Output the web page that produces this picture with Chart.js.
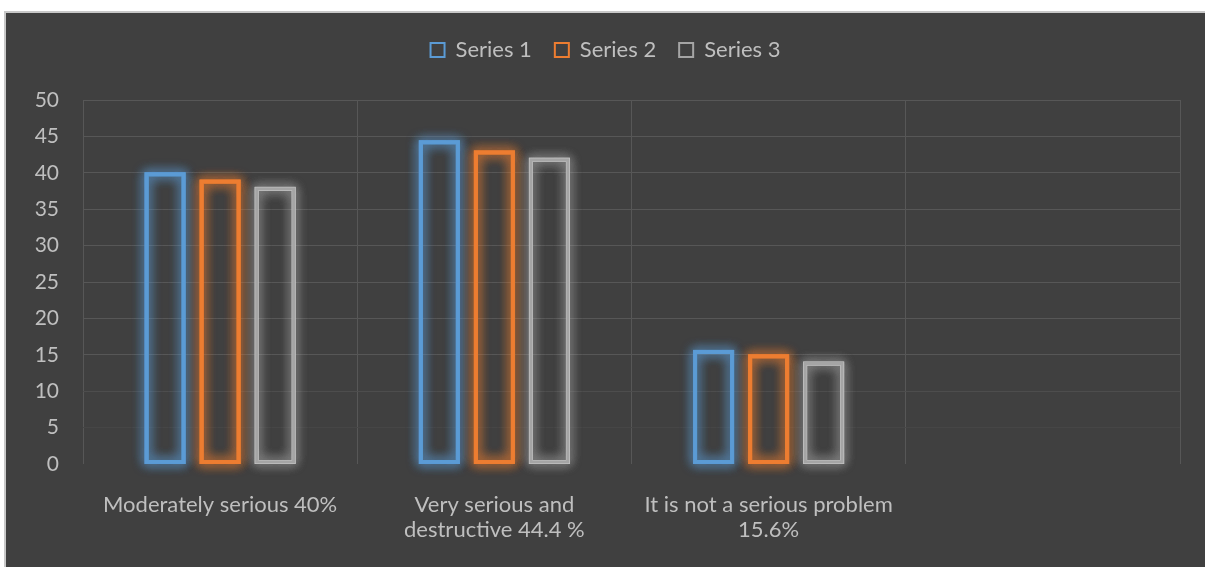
<!DOCTYPE html>
<html>
<head>
<meta charset="utf-8">
<script src="https://cdn.jsdelivr.net/npm/chart.js@4.4.1/dist/chart.umd.min.js"></script>
<style>
  html, body { margin: 0; padding: 0; background: #ffffff; }
  #marco {
    position: absolute; left: 4px; top: 11px;
    width: 1199px; height: 554px;
    background: #404040;
    border-top: 2px solid #c8c8c8;
    border-left: 2px solid #c8c8c8;
  }
  canvas { display: block; }
</style>
</head>
<body>
<div id="marco"><canvas id="grafico" width="1199" height="554"></canvas></div>
<script>
// Datos
const categorias = [
    'Moderately serious 40%',
    ['Very serious and', 'destructive 44.4 %'],
    ['It is not a serious problem', '15.6%'],
    ''
];
const serie1 = [40, 44.4, 15.6];
const serie2 = [39, 43, 15];
const serie3 = [38, 42, 14];
const nombresSeries = ['Series 1', 'Series 2', 'Series 3'];
const coloresSeries = ['#5b9bd5', '#ed7d31', '#a5a5a5'];
const brilloSeries = ['rgba(91,155,213,0.8)', 'rgba(237,125,49,0.8)', 'rgba(200,200,200,0.65)'];

const colorTexto = '#bfbfbf';
const colorRejilla = '#575757';

Chart.defaults.font.family = 'Lato, "Open Sans", sans-serif';
Chart.defaults.font.size = 22;
Chart.defaults.color = colorTexto;

// Resplandor alrededor de las barras (estilo Office)
const pluginBrillo = {
    id: 'brillo',
    beforeDatasetsDraw(chart) {
        const ctx = chart.ctx;
        chart.data.datasets.forEach((ds, i) => {
            const meta = chart.getDatasetMeta(i);
            meta.data.forEach(bar => {
                const { x, y, base, width } = bar.getProps(['x', 'y', 'base', 'width'], true);
                ctx.save();
                ctx.shadowColor = brilloSeries[i];
                ctx.shadowBlur = 12;
                ctx.strokeStyle = brilloSeries[i];
                ctx.lineWidth = 4;
                for (let k = 0; k < 3; k++) {
                    ctx.strokeRect(x - width / 2 + 1.5, y + 1.5, width - 3, base - y - 3);
                }
                ctx.restore();
            });
        });
    }
};

// Altura fija para la leyenda
const pluginLeyenda = {
    id: 'alturaLeyenda',
    afterInit(chart) {
        const lg = chart.legend;
        if (!lg) return;
        const fitOriginal = lg.fit;
        lg.fit = function () {
            fitOriginal.call(this);
            this.height = 84;
        };
    }
};

function crearDataset(label, datos, i) {
    return {
        label: label,
        data: datos,
        backgroundColor: 'transparent',
        borderColor: coloresSeries[i],
        borderWidth: 3,
        borderSkipped: false,
        categoryPercentage: 0.602,
        barPercentage: 0.727
    };
}

function colorLineaY(ctx) {
    const v = ctx.tick ? ctx.tick.value : null;
    if (v === 0) return 'rgba(0,0,0,0)';
    if (v === 5) return '#464646';
    if (v === 10) return '#4d4d4d';
    return colorRejilla;
}

new Chart(document.getElementById('grafico'), {
    type: 'bar',
    data: {
        labels: categorias,
        datasets: [
            crearDataset(nombresSeries[0], serie1, 0),
            crearDataset(nombresSeries[1], serie2, 1),
            crearDataset(nombresSeries[2], serie3, 2)
        ]
    },
    options: {
        responsive: false,
        animation: false,
        layout: { padding: { top: 3, left: 0, right: 0, bottom: 0 } },
        plugins: {
            tooltip: { enabled: false },
            legend: {
                position: 'top',
                labels: {
                    boxWidth: 14,
                    boxHeight: 14,
                    padding: 23,
                    color: colorTexto,
                    font: { size: 22 },
                    generateLabels(chart) {
                        const items = Chart.defaults.plugins.legend.labels.generateLabels(chart);
                        items.forEach(it => { it.lineWidth = 2; it.fillStyle = 'transparent'; });
                        return items;
                    }
                }
            }
        },
        scales: {
            x: {
                grid: { color: colorRejilla, offset: true, drawTicks: false },
                border: { display: false },
                ticks: { color: colorTexto, padding: 28, maxRotation: 0, autoSkip: false, font: { size: 22, lineHeight: 1.15 } },
                afterFit(scale) { scale.height = 103; }
            },
            y: {
                min: 0,
                max: 50,
                grid: { color: colorLineaY, drawTicks: false },
                border: { display: false },
                ticks: { stepSize: 5, color: colorTexto, padding: 24, font: { size: 21 } },
                afterFit(scale) { scale.width = 77; }
            },
            derecha: {
                type: 'linear',
                position: 'right',
                grid: { display: false },
                border: { display: false },
                ticks: { display: false },
                afterFit(scale) { scale.width = 25; }
            }
        }
    },
    plugins: [pluginBrillo, pluginLeyenda]
});
</script>
</body>
</html>
